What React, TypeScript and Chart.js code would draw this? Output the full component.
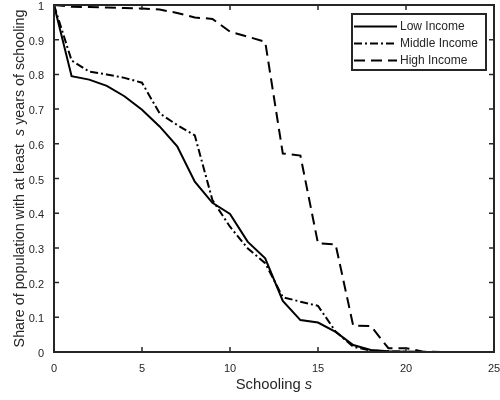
import React, { useEffect, useRef } from "react";
import { Chart, registerables } from "chart.js";

Chart.register(...registerables);

const schoolingYears = [0, 1, 2, 3, 4, 5, 6, 7, 8, 9, 10, 11, 12, 13, 14, 15, 16, 17, 18, 19, 20, 21, 22, 23, 24, 25];
const lowIncome = [1.0, 0.795, 0.785, 0.767, 0.737, 0.698, 0.65, 0.593, 0.491, 0.43, 0.398, 0.318, 0.27, 0.147, 0.092, 0.085, 0.058, 0.02, 0.006, 0.002, 0.001, 0, 0, 0, 0, 0];
const middleIncome = [1.0, 0.84, 0.808, 0.8, 0.79, 0.776, 0.688, 0.654, 0.624, 0.438, 0.361, 0.299, 0.256, 0.158, 0.145, 0.133, 0.059, 0.015, 0.004, 0.002, 0.001, 0, 0, 0, 0, 0];
const highIncome = [1.0, 0.995, 0.994, 0.993, 0.991, 0.99, 0.987, 0.977, 0.964, 0.96, 0.923, 0.909, 0.894, 0.572, 0.566, 0.313, 0.31, 0.076, 0.075, 0.011, 0.011, 0.001, 0, 0, 0, 0];
const seriesNames = ["Low Income", "Middle Income", "High Income"];
const xTicks = [0, 5, 10, 15, 20, 25];
const yTicks = [0, 0.1, 0.2, 0.3, 0.4, 0.5, 0.6, 0.7, 0.8, 0.9, 1];

const AXIS = "#262626";
const FONT = '"Liberation Sans", Arial, Helvetica, sans-serif';
const dashes: number[][] = [[], [8, 3, 2, 3], [11, 6]];

const framePlugin = {
  id: "matlabFrame",
  afterDraw(chart: any) {
    const { ctx, chartArea: a, scales } = chart;
    const xs = scales.x;
    const ys = scales.y;
    ctx.save();
    // frame
    ctx.strokeStyle = AXIS;
    ctx.lineWidth = 2;
    ctx.setLineDash([]);
    ctx.strokeRect(a.left, a.top, a.right - a.left, a.bottom - a.top);
    // ticks
    ctx.lineWidth = 1.5;
    const tl = 5;
    ctx.beginPath();
    for (const v of xTicks) {
      const px = xs.getPixelForValue(v);
      ctx.moveTo(px, a.bottom);
      ctx.lineTo(px, a.bottom - tl);
      ctx.moveTo(px, a.top);
      ctx.lineTo(px, a.top + tl);
    }
    for (const v of yTicks) {
      const py = ys.getPixelForValue(v);
      ctx.moveTo(a.left, py);
      ctx.lineTo(a.left + tl, py);
      ctx.moveTo(a.right, py);
      ctx.lineTo(a.right - tl, py);
    }
    ctx.stroke();
    // tick labels
    ctx.fillStyle = AXIS;
    ctx.font = `11px ${FONT}`;
    ctx.textAlign = "center";
    ctx.textBaseline = "middle";
    for (const v of xTicks) {
      ctx.fillText(String(v), xs.getPixelForValue(v), a.bottom + 16.5);
    }
    ctx.textAlign = "right";
    for (const v of yTicks) {
      ctx.fillText(String(v), a.left - 10, ys.getPixelForValue(v) + 2);
    }
    // x title
    const xf = 14.8;
    const xt1 = "Schooling ";
    ctx.font = `${xf}px ${FONT}`;
    const w1 = ctx.measureText(xt1).width;
    ctx.font = `italic ${xf}px ${FONT}`;
    const w2 = ctx.measureText("s").width;
    const cx = (a.left + a.right) / 2;
    const sx = cx - (w1 + w2) / 2;
    ctx.textAlign = "left";
    ctx.textBaseline = "alphabetic";
    ctx.font = `${xf}px ${FONT}`;
    ctx.fillText(xt1, sx, 389);
    ctx.font = `italic ${xf}px ${FONT}`;
    ctx.fillText("s", sx + w1, 389);
    // y title
    const yf = 14.3;
    const yt1 = "Share of population with at least  ";
    const yt2 = "s";
    const yt3 = " years of schooling";
    ctx.font = `${yf}px ${FONT}`;
    const a1 = ctx.measureText(yt1).width;
    const a3 = ctx.measureText(yt3).width;
    ctx.font = `italic ${yf}px ${FONT}`;
    const a2 = ctx.measureText(yt2).width;
    const total = a1 + a2 + a3;
    ctx.translate(24, (a.top + a.bottom) / 2);
    ctx.rotate(-Math.PI / 2);
    const p = -total / 2;
    ctx.font = `${yf}px ${FONT}`;
    ctx.fillText(yt1, p, 0);
    ctx.font = `italic ${yf}px ${FONT}`;
    ctx.fillText(yt2, p + a1, 0);
    ctx.font = `${yf}px ${FONT}`;
    ctx.fillText(yt3, p + a1 + a2, 0);
    ctx.setTransform(1, 0, 0, 1, 0, 0);
    // legend
    const lx = 352, ly = 14, lw = 134, lh = 56;
    ctx.fillStyle = "#ffffff";
    ctx.fillRect(lx, ly, lw, lh);
    ctx.strokeStyle = AXIS;
    ctx.lineWidth = 2;
    ctx.strokeRect(lx, ly, lw, lh);
    ctx.font = `12px ${FONT}`;
    ctx.textBaseline = "middle";
    ctx.textAlign = "left";
    seriesNames.forEach((name, i) => {
      const ry = 26.5 + i * 17;
      ctx.strokeStyle = "#000000";
      ctx.lineWidth = 2;
      ctx.setLineDash(dashes[i]);
      ctx.beginPath();
      ctx.moveTo(354, ry);
      ctx.lineTo(397, ry);
      ctx.stroke();
      ctx.setLineDash([]);
      ctx.fillStyle = AXIS;
      ctx.fillText(name, 400, ry + 0.5);
    });
    ctx.restore();
  },
};

export default function App() {
  const ref = useRef<HTMLCanvasElement | null>(null);
  useEffect(() => {
    if (!ref.current) return;
    const series = [lowIncome, middleIncome, highIncome];
    const chart = new Chart(ref.current, {
      type: "line",
      data: {
        datasets: series.map((vals, i) => ({
          label: seriesNames[i],
          data: schoolingYears.map((x, j) => ({ x, y: vals[j] })),
          borderColor: "#000000",
          backgroundColor: "#000000",
          borderWidth: 2,
          borderDash: dashes[i],
          pointRadius: 0,
          tension: 0,
          fill: false,
        })),
      },
      options: {
        animation: false,
        responsive: false,
        devicePixelRatio: 1,
        layout: { padding: { left: 54, top: 5, right: 6, bottom: 48 } },
        plugins: { legend: { display: false }, tooltip: { enabled: false }, title: { display: false } },
        scales: {
          x: { type: "linear", min: 0, max: 25, display: false },
          y: { type: "linear", min: 0, max: 1, display: false },
        },
      },
      plugins: [framePlugin],
    });
    return () => chart.destroy();
  }, []);
  return (
    <div style={{ position: "fixed", left: 0, top: 0, width: 500, height: 400, background: "#fff" }}>
      <canvas ref={ref} width={500} height={400} style={{ width: 500, height: 400 }} />
    </div>
  );
}
